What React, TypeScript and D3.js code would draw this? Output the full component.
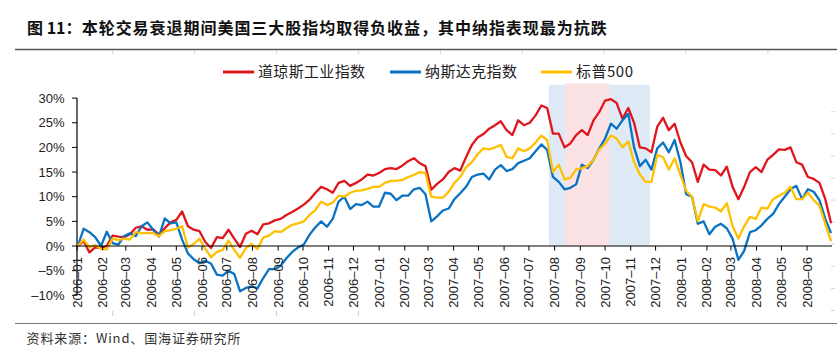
import React from "react";
import * as d3 from "d3";

// ---------- data ----------
const START = new Date(2006, 0, 2);
const N_WEEKS = 131;

const dowValues = [
  0, 1.0, -1.3, -0.3, -0.4, 0.0, 2.1, 1.9, 1.8, 2.4,
  3.7, 4.0, 3.3, 3.4, 2.3, 3.6, 4.8, 5.3, 7.0, 4.0,
  3.3, 3.0, 0.8, -0.4, 1.8, 1.6, 3.3, 1.5, -0.2, 2.5,
  3.1, 2.4, 4.4, 4.6, 5.2, 5.5, 6.3, 6.9, 7.6, 8.4,
  9.4, 10.8, 12.0, 11.5, 10.8, 12.8, 13.2, 12.2, 12.8, 13.5,
  14.5, 14.3, 14.8, 15.6, 15.8, 15.6, 16.3, 17.2, 17.8, 16.8,
  16.2, 11.4, 12.6, 13.5, 15.0, 15.8, 15.3, 18.0, 20.5, 22.0,
  22.7, 23.8, 24.5, 25.3, 23.5, 22.5, 25.5, 24.5, 25.0, 26.5,
  28.5, 28.0, 22.8, 22.8, 20.0, 20.8, 22.5, 23.5, 22.5, 25.5,
  27.2, 29.5, 29.8, 29.0, 25.8, 28.0, 25.0, 20.0, 19.8, 19.0,
  24.2, 26.0, 23.5, 24.8, 21.0, 18.2, 17.0, 13.0, 16.5, 15.5,
  15.4, 14.3, 16.1, 12.0, 9.5, 12.0, 15.0, 16.0, 15.0, 17.5,
  18.5, 19.6, 19.5, 20.0, 17.0, 16.5, 14.0, 13.6, 12.8, 9.5,
  4.6,
];

const nasdaqValues = [
  0, 3.5, 2.8, 1.8, 0.0, 2.9, 0.6, 0.3, 2.0, 2.6,
  2.0, 4.0, 4.8, 3.3, 1.9, 5.6, 4.6, 4.8, 1.3, -1.5,
  -2.7, -3.5, -3.0, -3.6, -5.8, -6.0, -5.0, -5.7, -9.2, -8.5,
  -8.2, -8.6, -6.5, -4.7, -4.7, -4.0, -2.5, -1.2, -0.3, 0.3,
  2.3, 3.8, 5.0, 3.9, 5.5, 9.0, 10.0, 7.5, 8.5, 8.3,
  9.0, 8.0, 8.0, 10.8, 10.6, 9.3, 10.2, 10.2, 11.5, 11.8,
  10.5, 5.0, 6.0, 7.2, 7.6, 9.5, 10.7, 12.0, 14.0, 14.5,
  14.7, 13.5, 15.5, 16.4, 15.2, 15.6, 16.8, 17.3, 17.8, 19.2,
  20.6, 19.5, 14.0, 13.0, 11.5, 11.8, 12.5, 16.5, 15.8, 17.5,
  19.8, 21.8, 24.8, 23.8, 25.5, 26.8, 20.0, 16.2, 17.5, 15.5,
  19.8, 21.0, 19.0, 21.5, 17.0, 10.5, 10.0, 4.5, 5.0, 2.4,
  3.9, 4.5, 3.6, 1.5, -2.8, -1.0, 2.8, 3.2, 4.2, 5.5,
  6.5, 8.5, 10.0, 11.5, 12.2, 9.5, 11.5, 11.0, 9.3, 5.5,
  2.6,
];

const spValues = [
  0, 1.3, -0.3, 0.2, -0.6, -0.7, 1.5, 1.2, 1.5, 1.3,
  2.8, 2.6, 2.6, 2.6, 2.0, 3.0, 3.2, 3.5, 4.0, -0.3,
  0.4, 1.5, -0.6, -2.3, -1.2, -0.8, 1.1, -0.8, -2.4, -0.4,
  0.4, -0.6, 1.7, 2.1, 3.0, 2.8, 3.6, 4.3, 4.6, 5.0,
  6.3, 7.3, 9.0, 8.3, 8.8, 10.2, 10.0, 10.8, 11.2, 11.3,
  11.6, 12.0, 12.0, 12.8, 13.2, 13.2, 13.4, 14.0, 14.4, 15.0,
  14.8, 10.0, 9.8, 9.8, 11.0, 12.8, 14.0, 16.0, 17.0, 18.6,
  19.8, 19.6, 20.0, 20.5, 18.1, 17.8, 19.8, 19.2, 19.8, 21.0,
  22.4, 21.5, 15.0, 16.5, 13.5, 13.8, 15.5, 15.8, 16.2, 17.5,
  19.6, 20.8, 22.4, 21.8, 20.0, 21.2, 17.0, 14.5, 13.0, 13.0,
  18.5, 18.0, 15.5, 17.8, 14.5, 11.2, 10.0, 5.0, 8.5, 8.0,
  7.8, 7.0, 8.7, 4.0, 1.5, 4.0, 5.9, 5.5, 7.8, 7.6,
  9.5, 10.2, 10.8, 12.0, 9.5, 9.5, 10.8, 9.3, 8.2, 4.5,
  1.0,
];

const seriesNames = ["道琼斯工业指数", "纳斯达克指数", "标普500"];
const seriesColors = ["#e0161d", "#0a72c2", "#ffc000"];
const yTicks = [-10, -5, 0, 5, 10, 15, 20, 25, 30];

// shaded periods [start, end, top value %]
const shadeStarts = [new Date(2007, 6, 25), new Date(2007, 7, 14)];
const shadeEnds = [new Date(2007, 10, 24), new Date(2007, 9, 6)];
const shadeTops = [32.7, 33.0];
const shadeColors = ["#deeaf6", "#fae2e5"];

const titleLead = "图 11：";
const titleText = "本轮交易衰退期间美国三大股指均取得负收益，其中纳指表现最为抗跌";
const sourceText = "资料来源：Wind、国海证券研究所";

// ---------- chart ----------
const W = 837;
const H = 356;

export default function App() {
  const dates = d3.range(N_WEEKS).map((i) => d3.timeDay.offset(START, 7 * i));
  const series = [dowValues, nasdaqValues, spValues];

  const x = d3
    .scaleTime()
    .domain([new Date(2006, 0, 1), new Date(2008, 6, 1)])
    .range([77, 831.9]);
  const y = d3.scaleLinear().domain([-10, 30]).range([295.3, 98.1]);

  const line = d3
    .line<number>()
    .x((_, i) => x(dates[i]))
    .y((v) => y(v));

  const months = d3.timeMonth.range(new Date(2006, 0, 1), new Date(2008, 6, 1));
  const fmtMonth = d3.timeFormat("%Y–%m");

  const tickFont = "'Liberation Sans', Arial, sans-serif";
  const cjkFont = "'Noto Sans CJK SC', 'Noto Sans', sans-serif";

  const legendX = [223, 390, 541];
  const legendTextLen = [107, 92, 57];

  // faint decorative ticks of the surrounding frame
  const frameTopXs = d3.range(9).map((k) => 112.7 + k * 81.9);
  const frameRightYs = d3.range(10).map((k) => 111.7 + k * 22.1);

  return (
    <svg
      width={W}
      height={H}
      style={{ position: "absolute", left: 0, top: 0, background: "#fff" }}
    >
      {/* title */}
      <text x={27} y={34} fontFamily={cjkFont} fontWeight={700} fontSize={16} fill="#111">
        {titleLead}
      </text>
      <text
        x={81.7}
        y={34}
        fontFamily={cjkFont}
        fontWeight={700}
        fontSize={16}
        fill="#111"
        textLength={525}
        lengthAdjust="spacing"
      >
        {titleText}
      </text>
      <line x1={15} x2={837} y1={49.5} y2={49.5} stroke="#555" strokeWidth={1.5} />

      {/* frame remnants */}
      {frameTopXs.map((fx, k) => (
        <line key={"ft" + k} x1={fx} x2={fx} y1={51} y2={54} stroke="#d0d0d0" strokeWidth={1} />
      ))}
      {frameTopXs.slice(0, 4).map((fx, k) => (
        <line key={"fb" + k} x1={fx} x2={fx} y1={311} y2={316} stroke="#d0d0d0" strokeWidth={1} />
      ))}
      {frameRightYs.map((fy, k) => (
        <line key={"fr" + k} x1={831} x2={835} y1={fy} y2={fy} stroke="#d8d8d8" strokeWidth={1} />
      ))}

      {/* shaded periods */}
      {shadeStarts.map((s, k) => (
        <rect
          key={"sh" + k}
          x={x(s)}
          y={y(shadeTops[k])}
          width={x(shadeEnds[k]) - x(s)}
          height={y(0) - y(shadeTops[k])}
          fill={shadeColors[k]}
        />
      ))}

      {/* legend */}
      {seriesNames.map((name, k) => (
        <g key={"lg" + k}>
          <line
            x1={legendX[k]}
            x2={legendX[k] + 31}
            y1={72}
            y2={72}
            stroke={seriesColors[k]}
            strokeWidth={3}
          />
          <text
            x={legendX[k] + 35}
            y={72}
            dy="0.36em"
            fontFamily={cjkFont}
            fontSize={15}
            fill="#222"
            textLength={legendTextLen[k]}
            lengthAdjust="spacing"
          >
            {name}
          </text>
        </g>
      ))}

      {/* y axis */}
      <line x1={77} x2={77} y1={y(30)} y2={y(-10)} stroke="#000" strokeWidth={1.2} />
      {yTicks.map((t) => (
        <g key={"yt" + t}>
          <line x1={72} x2={77} y1={y(t)} y2={y(t)} stroke="#000" strokeWidth={1} />
          <text
            x={64.5}
            y={y(t)}
            dy="0.35em"
            textAnchor="end"
            fontFamily={tickFont}
            fontSize={13}
            fill="#222"
          >
            {(t < 0 ? "–" + Math.abs(t) : String(t)) + "%"}
          </text>
        </g>
      ))}

      {/* lines */}
      {series.map((vals, k) => (
        <path
          key={"s" + k}
          d={line(vals) || ""}
          fill="none"
          stroke={seriesColors[k]}
          strokeWidth={2.3}
          strokeLinejoin="round"
        />
      ))}

      {/* x axis */}
      <line x1={77} x2={832} y1={y(0)} y2={y(0)} stroke="#000" strokeWidth={1.2} />
      {months.map((m, k) => (
        <g key={"xt" + k}>
          <line x1={x(m)} x2={x(m)} y1={y(0)} y2={y(0) + 4.5} stroke="#000" strokeWidth={1} />
          <text
            x={x(m)}
            y={257}
            dy="0.35em"
            textAnchor="end"
            transform={`rotate(-90, ${x(m)}, 257)`}
            fontFamily={tickFont}
            fontSize={13}
            fill="#222"
          >
            {fmtMonth(m)}
          </text>
        </g>
      ))}

      {/* footer */}
      <line x1={15} x2={837} y1={323.5} y2={323.5} stroke="#777" strokeWidth={1.2} />
      <text
        x={26.5}
        y={343}
        fontFamily={cjkFont}
        fontSize={13}
        fill="#333"
        textLength={214}
        lengthAdjust="spacing"
      >
        {sourceText}
      </text>
    </svg>
  );
}
